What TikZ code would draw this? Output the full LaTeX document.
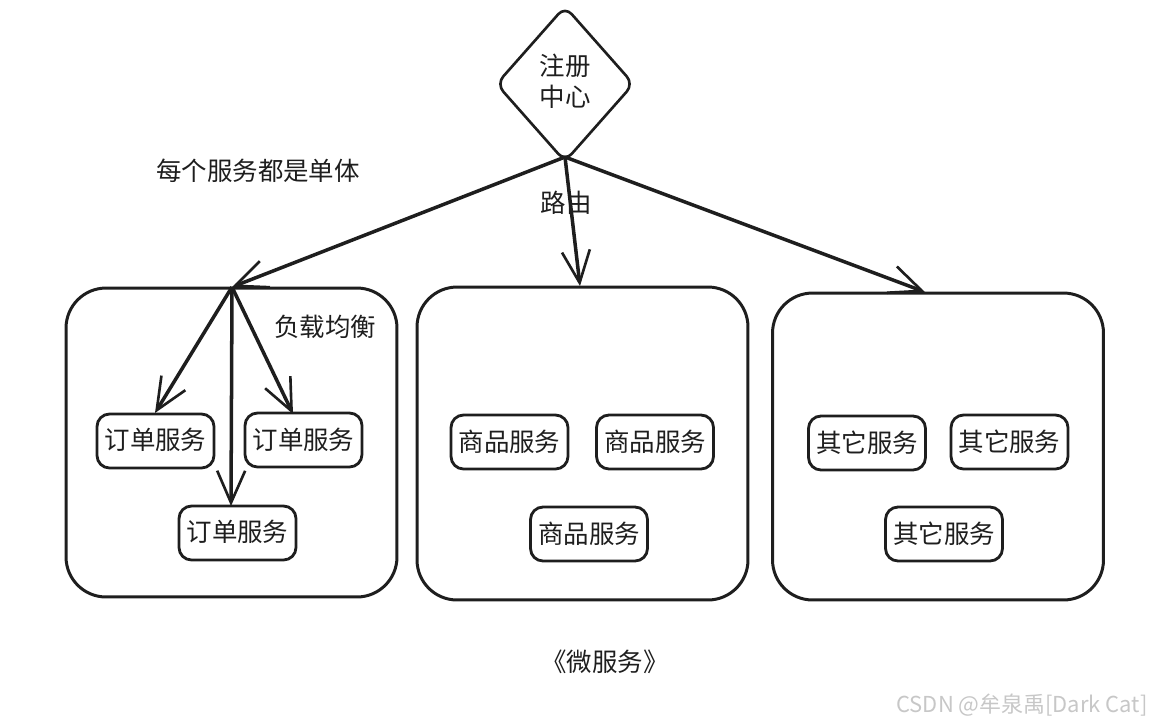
\documentclass[tikz,border=0pt]{standalone}
\usepackage{fontspec}
\setmainfont{Noto Sans CJK SC}
\usetikzlibrary{arrows.meta}
\usetikzlibrary{shapes.geometric}
\definecolor{ink}{HTML}{1E1E1E}
\tikzset{
  groupbox/.style={draw=ink, line width=1.7pt, rounded corners=0.8cm, minimum width=6.62cm},
  svctxt/.style={font=\fontsize{14.5}{17.6}\selectfont, text=ink, inner sep=0pt},
  svcbox/.style={svctxt, draw=ink, line width=1.6pt, rounded corners=0.25cm, minimum width=2.34cm, minimum height=1.08cm},
  flow/.style={draw=ink, line width=2pt, -{Straight Barb[length=0.64cm,width=0.56cm,line width=1.5pt]}}
}
\begin{document}
\begin{tikzpicture}[x=0.02cm,y=-0.02cm]
\useasboundingbox (0,0) rectangle (1149,725);
\node[diamond, draw=ink, line width=1.5pt, rounded corners=0.2cm, aspect=0.885, minimum width=2.76cm, minimum height=3.12cm, inner sep=0pt] (registry) at (565,84) {};
\node[svctxt, align=center] (registrytxt) at (565,81) {注册\\中心};
\node[groupbox, minimum height=6.18cm] (order) at (231.5,442.5) {};
\node[groupbox, minimum height=6.26cm] (goods) at (582.5,443.5) {};
\node[groupbox, minimum height=6.14cm] (other) at (938,446.5) {};
\node[svcbox] (order1) at (155.5,441) {\raisebox{2pt}{订单服务}};
\node[svcbox] (order2) at (303.5,440) {\raisebox{1pt}{订单服务}};
\node[svcbox] (order3) at (237.5,533) {\raisebox{2pt}{订单服务}};
\node[svcbox] (goods1) at (509.5,442) {\raisebox{1pt}{商品服务}};
\node[svcbox] (goods2) at (655,442) {\raisebox{1pt}{商品服务}};
\node[svcbox] (goods3) at (589,534) {\raisebox{1pt}{商品服务}};
\node[svcbox] (other1) at (867,443) {\raisebox{1pt}{其它服务}};
\node[svcbox] (other2) at (1009.5,442) {\raisebox{1pt}{其它服务}};
\node[svcbox] (other3) at (944,534) {\raisebox{1pt}{其它服务}};
\node[svctxt] (single) at (258,171) {每个服务都是单体};
\node[svctxt] (route) at (566,203) {路由};
\node[svctxt] (balance) at (325,327) {负载均衡};
\node[svctxt] (title) at (605,662) {《微服务》};
\node[inner sep=0pt, text=black!22, font=\fontsize{12.5}{14}\selectfont] (mark) at (1022,705) {CSDN @牟泉禹[Dark Cat]};
\coordinate (hub) at (565,157);
\coordinate (orderin) at (232,287);
\coordinate (goodsin) at (580,286);
\coordinate (otherin) at (925,292);
\coordinate (order1in) at (155,413);
\coordinate (order2in) at (293,414);
\coordinate (order3in) at (231,506);
\draw[flow] (hub) -- (orderin);
\draw[flow] (hub) -- (goodsin);
\draw[flow] (hub) -- (otherin);
\draw[flow] (orderin) -- (order1in);
\draw[flow] (orderin) -- (order2in);
\draw[flow] (orderin) -- (order3in);
\end{tikzpicture}
\end{document}
